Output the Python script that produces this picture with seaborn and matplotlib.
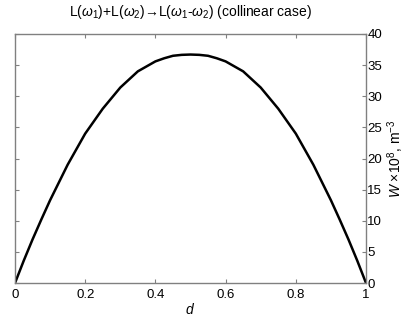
import matplotlib
matplotlib.use("Agg")
import matplotlib.pyplot as plt
import seaborn as sns
import pandas as pd

d_vals = [0.0, 0.025, 0.05, 0.075, 0.1, 0.15, 0.2, 0.25, 0.3, 0.35, 0.4, 0.425, 0.45,
          0.475, 0.5, 0.525, 0.55, 0.575, 0.6, 0.65, 0.7, 0.75, 0.8, 0.85, 0.9,
          0.925, 0.95, 0.975, 1.0]
w_vals = [0.0, 3.6, 7.0, 10.2, 13.3, 19.0, 24.0, 28.0, 31.4, 34.0, 35.6, 36.1, 36.5,
          36.65, 36.7, 36.65, 36.5, 36.1, 35.6, 34.0, 31.4, 28.0, 24.0, 19.0, 13.3,
          10.2, 7.0, 3.6, 0.0]
x_ticks = [0, 0.2, 0.4, 0.6, 0.8, 1]
x_tick_labels = ["0", "0.2", "0.4", "0.6", "0.8", "1"]
y_ticks = [0, 5, 10, 15, 20, 25, 30, 35, 40]

sns.set_style("white")
plt.rcParams['font.family'] = ['Liberation Sans', 'DejaVu Sans']
plt.rcParams['text.color'] = 'black'
plt.rcParams['axes.labelcolor'] = 'black'
plt.rcParams['xtick.labelcolor'] = 'black'
plt.rcParams['ytick.labelcolor'] = 'black'
plt.rcParams['mathtext.fontset'] = 'custom'
plt.rcParams['mathtext.rm'] = 'Liberation Sans'
plt.rcParams['mathtext.it'] = 'Liberation Sans:italic'

df = pd.DataFrame({"d": d_vals, "W": w_vals})

fig = plt.figure(figsize=(4.17, 3.21), dpi=100)
ax = fig.add_axes([15/417, 1 - 283/321, 351/417, 249/321])
sns.lineplot(data=df, x="d", y="W", ax=ax, color="black", linewidth=1.8)

ax.set_xlim(0, 1)
ax.set_ylim(0, 40)
ax.set_xticks(x_ticks)
ax.set_xticklabels(x_tick_labels)
ax.set_yticks(y_ticks)
ax.yaxis.tick_right()
ax.yaxis.set_label_position("right")
ax.tick_params(axis="both", direction="in", length=3, color="#808080",
               labelsize=9.5, labelcolor="black", top=True, bottom=True, left=True, right=True,
               labelleft=False, labelright=True, pad=1)
ax.tick_params(axis="x", pad=4)
for s in ax.spines.values():
    s.set_color("#808080")
    s.set_linewidth(1)
ax.set_xlabel("$d$", fontsize=10, labelpad=1, color="black")
ax.set_ylabel(r"$W$ ×10$^{8}$, m$^{-3}$", fontsize=10, labelpad=2, color="black")
fig.text(0.5 * (15 + 366) / 417, 1 - 12/321,
         r"L($\omega_1$)+L($\omega_2$)→L($\omega_1$-$\omega_2$) (collinear case)",
         ha="center", va="center", fontsize=10, color="black")
fig.savefig("out.png", dpi=100)
